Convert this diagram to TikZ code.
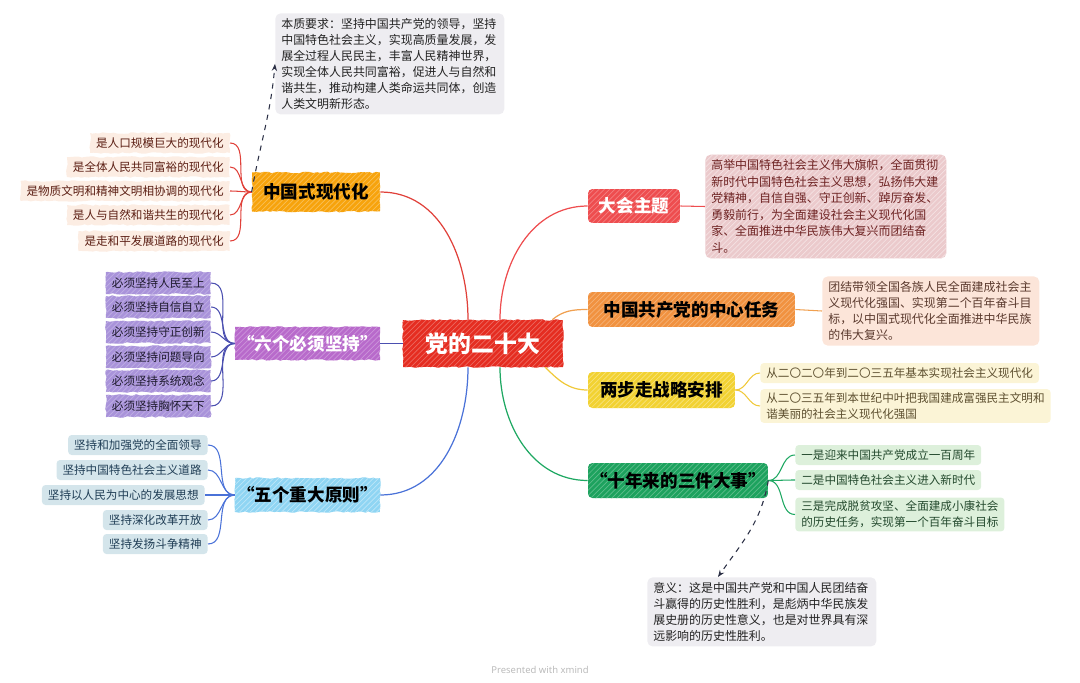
\documentclass[tikz,border=0pt]{standalone}
\usepackage{fontspec}
\setmainfont{Noto Sans CJK SC}
\newfontfamily\latinfont{Noto Sans}
\usetikzlibrary{arrows.meta, positioning, decorations.pathmorphing, patterns}

\definecolor{cred}{HTML}{E52D21}
\definecolor{corange}{HTML}{F7A30C}
\definecolor{cpurple}{HTML}{B86ACB}
\definecolor{cblue}{HTML}{8FD5F3}
\definecolor{cred2}{HTML}{EE4D4F}
\definecolor{corange2}{HTML}{F19240}
\definecolor{cyellow}{HTML}{F2D232}
\definecolor{cgreen}{HTML}{1DA25E}
\definecolor{lred}{HTML}{E0413A}
\definecolor{lindigo}{HTML}{4B4FB0}
\definecolor{lblue}{HTML}{4A72D8}
\definecolor{lorange}{HTML}{F0A050}
\definecolor{lyellow}{HTML}{F0C93A}
\definecolor{lgreen}{HTML}{1EA862}
\definecolor{cnavy}{HTML}{2B2F45}
\definecolor{cgray}{HTML}{EEEDF1}
\definecolor{cink}{HTML}{222222}
\definecolor{fpeach}{HTML}{FCEDE3}
\definecolor{tpeach}{HTML}{5C1F14}
\definecolor{flav}{HTML}{A993DA}
\definecolor{tlav}{HTML}{1E1A2E}
\definecolor{fsky}{HTML}{D4E5EB}
\definecolor{tsky}{HTML}{203E56}
\definecolor{fpink}{HTML}{EBCACC}
\definecolor{tpink}{HTML}{6E2323}
\definecolor{fsand}{HTML}{FCE5D9}
\definecolor{tsand}{HTML}{5B3A2E}
\definecolor{fcream}{HTML}{FBF4D6}
\definecolor{tcream}{HTML}{5E5030}
\definecolor{fmint}{HTML}{DDF0DB}
\definecolor{tmint}{HTML}{23492D}
\definecolor{cfoot}{HTML}{BBBBBB}

\begin{document}
\begin{tikzpicture}[x=0.02cm, y=0.02cm,
  rough/.style={sharp corners, decorate, decoration={random steps, segment length=2pt, amplitude=0.45pt}},
  hatch/.style={postaction={pattern=north east lines, pattern color=#1}},
  topic/.style={rounded corners=2.5pt, inner sep=0pt, font=\fontsize{10}{12}\selectfont\bfseries},
  leaf/.style={rounded corners=2pt, inner xsep=3.4pt, inner ysep=0pt, minimum height=0.4cm, align=left, font=\fontsize{6.6}{9}\selectfont},
  note/.style={rounded corners=3pt, inner xsep=0.12cm, inner ysep=0.1cm, align=left, font=\fontsize{6.8}{9.1}\selectfont},
  link/.style={line width=0.7pt},
  twig/.style={line width=0.6pt},
  hint/.style={dashed, cnavy, line width=0.6pt, -{Stealth[length=4pt, width=3pt]}}]
\useasboundingbox (0,0) rectangle (1080,-683);

\node[topic, rough, fill=cred, hatch=cred!72!white, text=white, minimum width=3.2cm, minimum height=0.94cm, font=\fontsize{13}{15}\selectfont\bfseries] (ctr) at (483,-343.5) {党的二十大};

\node[topic, rough, fill=corange, hatch=corange!70!white, minimum width=2.56cm, minimum height=0.78cm] (zgs) at (316,-192) {中国式现代化};
\node[topic, rough, fill=cpurple, hatch=cpurple!72!white, text=white, minimum width=2.9cm, minimum height=0.66cm] (lgjc) at (307.5,-343.5) {“六个必须坚持”};
\node[topic, rough, fill=cblue, hatch=cblue!60!white, minimum width=2.9cm, minimum height=0.68cm] (wgyz) at (307.5,-495) {“五个重大原则”};
\node[topic, fill=cred2, hatch=cred2!72!white, text=white, minimum width=1.84cm, minimum height=0.68cm] (dhzt) at (634,-206) {大会主题};
\node[topic, fill=corange2, hatch=corange2!72!white, minimum width=4.14cm, minimum height=0.7cm] (zxrw) at (691.5,-309.5) {中国共产党的中心任务};
\node[topic, fill=cyellow, hatch=cyellow!65!white, minimum width=2.94cm, minimum height=0.72cm] (lbz) at (661.5,-390) {两步走战略安排};
\node[topic, fill=cgreen, hatch=cgreen!72!white, minimum width=3.6cm, minimum height=0.7cm] (snl) at (678,-480.5) {“十年来的三件大事”};

\node[leaf, rough, fill=fpeach, text=tpeach, anchor=east] (zgs1) at (230,-143) {是人口规模巨大的现代化};
\node[leaf, rough, fill=fpeach, text=tpeach, anchor=east] (zgs2) at (230,-167) {是全体人民共同富裕的现代化};
\node[leaf, rough, fill=fpeach, text=tpeach, anchor=east] (zgs3) at (230,-191) {是物质文明和精神文明相协调的现代化};
\node[leaf, rough, fill=fpeach, text=tpeach, anchor=east] (zgs4) at (230,-215) {是人与自然和谐共生的现代化};
\node[leaf, rough, fill=fpeach, text=tpeach, anchor=east] (zgs5) at (230,-241) {是走和平发展道路的现代化};

\node[leaf, rough, fill=flav, hatch=flav!75!white, text=tlav, anchor=east, minimum height=0.44cm] (lgjc1) at (211,-283) {必须坚持人民至上};
\node[leaf, rough, fill=flav, hatch=flav!75!white, text=tlav, anchor=east, minimum height=0.44cm] (lgjc2) at (211,-307) {必须坚持自信自立};
\node[leaf, rough, fill=flav, hatch=flav!75!white, text=tlav, anchor=east, minimum height=0.44cm] (lgjc3) at (211,-332) {必须坚持守正创新};
\node[leaf, rough, fill=flav, hatch=flav!75!white, text=tlav, anchor=east, minimum height=0.44cm] (lgjc4) at (211,-357) {必须坚持问题导向};
\node[leaf, rough, fill=flav, hatch=flav!75!white, text=tlav, anchor=east, minimum height=0.44cm] (lgjc5) at (211,-381) {必须坚持系统观念};
\node[leaf, rough, fill=flav, hatch=flav!75!white, text=tlav, anchor=east, minimum height=0.44cm] (lgjc6) at (211,-406) {必须坚持胸怀天下};

\node[leaf, fill=fsky, text=tsky, anchor=east] (wgyz1) at (208,-445) {坚持和加强党的全面领导};
\node[leaf, fill=fsky, text=tsky, anchor=east] (wgyz2) at (208,-470) {坚持中国特色社会主义道路};
\node[leaf, fill=fsky, text=tsky, anchor=east] (wgyz3) at (205,-495) {坚持以人民为中心的发展思想};
\node[leaf, fill=fsky, text=tsky, anchor=east] (wgyz4) at (208,-520) {坚持深化改革开放};
\node[leaf, fill=fsky, text=tsky, anchor=east] (wgyz5) at (208,-544) {坚持发扬斗争精神};

\node[leaf, fill=fcream, text=tcream, anchor=west] (lbz1) at (760,-373) {从二〇二〇年到二〇三五年基本实现社会主义现代化};
\node[leaf, fill=fcream, text=tcream, anchor=west, inner ysep=2pt] (lbz2) at (760,-406) {从二〇三五年到本世纪中叶把我国建成富强民主文明和\\谐美丽的社会主义现代化强国};

\node[leaf, fill=fmint, text=tmint, anchor=west] (snl1) at (795,-455) {一是迎来中国共产党成立一百周年};
\node[leaf, fill=fmint, text=tmint, anchor=west] (snl2) at (795,-480) {二是中国特色社会主义进入新时代};
\node[leaf, fill=fmint, text=tmint, anchor=west, inner ysep=2pt] (snl3) at (795,-514.5) {三是完成脱贫攻坚、全面建成小康社会\\的历史任务，实现第一个百年奋斗目标};

\node[note, fill=cgray, text=cink, anchor=north west, text width=4.34cm] (bzyq) at (275,-13) {本质要求：坚持中国共产党的领导，坚持\\中国特色社会主义，实现高质量发展，发\\展全过程人民民主，丰富人民精神世界，\\实现全体人民共同富裕，促进人与自然和\\谐共生，推动构建人类命运共同体，创造\\人类文明新形态。};
\node[note, fill=fpink, hatch=fpink!55!white, text=tpink, anchor=west, text width=4.58cm, font=\fontsize{6.8}{9.4}\selectfont] (dhztn) at (705,-206.5) {高举中国特色社会主义伟大旗帜，全面贯彻\\新时代中国特色社会主义思想，弘扬伟大建\\党精神，自信自强、守正创新、踔厉奋发、\\勇毅前行，为全面建设社会主义现代化国\\家、全面推进中华民族伟大复兴而团结奋\\斗。};
\node[note, fill=fsand, text=tsand, anchor=west, text width=4.1cm] (zxrwn) at (822,-311) {团结带领全国各族人民全面建成社会主\\义现代化强国、实现第二个百年奋斗目\\标，以中国式现代化全面推进中华民族\\的伟大复兴。};
\node[note, fill=cgray, text=cink, anchor=north west, text width=4.34cm] (yiyi) at (647,-577) {意义：这是中国共产党和中国人民团结奋\\斗赢得的历史性胜利，是彪炳中华民族发\\展史册的历史性意义，也是对世界具有深\\远影响的历史性胜利。};

\node[text=cfoot, font=\latinfont\fontsize{5.4}{6}\selectfont] (foot) at (540,-670) {Presented with \textbf{xmind}};

\draw[link, lred] ([xshift=-0.3cm]ctr.north) to[out=90, in=0] (zgs.east);
\draw[link, cred2] ([xshift=0.34cm]ctr.north) to[out=90, in=180] (dhzt.west);
\draw[link, lorange] ([xshift=-0.22cm]ctr.north east) to[out=40, in=180] (zxrw.west);
\draw[link, lyellow] ([xshift=-0.36cm]ctr.south east) to[out=-45, in=180] (lbz.west);
\draw[link, lgreen] ([xshift=0.34cm]ctr.south) to[out=-90, in=180] (snl.west);
\draw[link, lblue] ([xshift=-0.3cm]ctr.south) to[out=-90, in=0] (wgyz.east);
\draw[link, lindigo] (ctr.west) -- (lgjc.east);

\draw[twig, lred] (zgs.west) to[out=180, in=0] (zgs1.east);
\draw[twig, lred] (zgs.west) to[out=180, in=0] (zgs2.east);
\draw[twig, lred] (zgs.west) to[out=180, in=0] (zgs3.east);
\draw[twig, lred] (zgs.west) to[out=180, in=0] (zgs4.east);
\draw[twig, lred] (zgs.west) to[out=180, in=0] (zgs5.east);

\draw[twig, lindigo] (lgjc.west) to[out=180, in=0] (lgjc1.east);
\draw[twig, lindigo] (lgjc.west) to[out=180, in=0] (lgjc2.east);
\draw[twig, lindigo] (lgjc.west) to[out=180, in=0] (lgjc3.east);
\draw[twig, lindigo] (lgjc.west) to[out=180, in=0] (lgjc4.east);
\draw[twig, lindigo] (lgjc.west) to[out=180, in=0] (lgjc5.east);
\draw[twig, lindigo] (lgjc.west) to[out=180, in=0] (lgjc6.east);

\draw[twig, lblue] (wgyz.west) to[out=180, in=0] (wgyz1.east);
\draw[twig, lblue] (wgyz.west) to[out=180, in=0] (wgyz2.east);
\draw[twig, lblue] (wgyz.west) to[out=180, in=0] (wgyz3.east);
\draw[twig, lblue] (wgyz.west) to[out=180, in=0] (wgyz4.east);
\draw[twig, lblue] (wgyz.west) to[out=180, in=0] (wgyz5.east);

\draw[twig, cred2] (dhzt.east) -- (dhztn.west);
\draw[twig, lorange] (zxrw.east) -- (zxrwn.west);

\draw[twig, lyellow] (lbz.east) to[out=0, in=180] (lbz1.west);
\draw[twig, lyellow] (lbz.east) to[out=0, in=180] (lbz2.west);

\draw[twig, lgreen] (snl.east) to[out=0, in=180] (snl1.west);
\draw[twig, lgreen] (snl.east) to[out=0, in=180] (snl2.west);
\draw[twig, lgreen] (snl.east) to[out=0, in=180] (snl3.west);

\draw[hint] (zgs.west) to[out=80, in=-95] (bzyq.west);
\draw[hint] (snl.east) to[out=-100, in=55] ([xshift=1.42cm]yiyi.north west);
\end{tikzpicture}
\end{document}
